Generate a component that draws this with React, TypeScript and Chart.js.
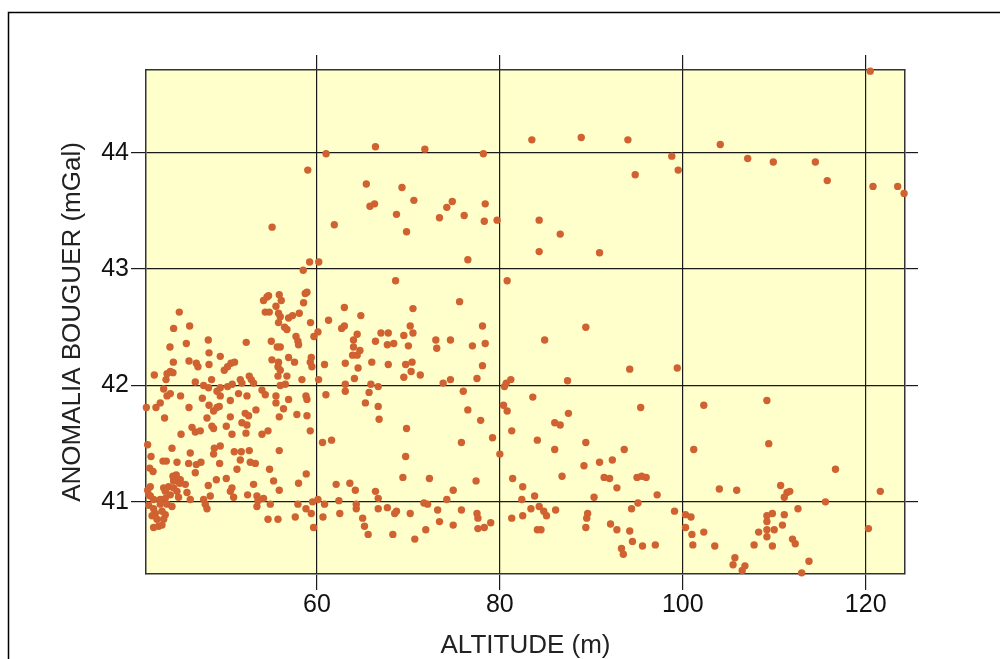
import React, { useEffect, useRef } from "react";
import { Chart, registerables } from "chart.js";

Chart.register(...registerables);

const xTicks = [60, 80, 100, 120];
const yTicks = [41, 42, 43, 44];
const xTitle = "ALTITUDE (m)";
const yTitle = "ANOMALIA BOUGUER (mGal)";

// ALTITUDE (m)
const altitude = [
  // east part
  83.5, 88.9, 94.0, 98.8, 99.5, 94.8, 104.1, 107.1, 109.9, 114.5,
  115.8, 120.5, 120.8, 123.5, 124.2, 84.3, 86.6, 84.3, 90.9, 89.4,
  84.9, 94.2, 99.4, 87.4, 83.6, 95.4, 87.5, 86.0, 86.6, 84.1,
  89.4, 86.0, 93.6, 102.3, 109.2, 109.4, 101.2, 116.7, 89.2, 90.9,
  92.3, 86.8, 91.4, 92.0, 95.0, 95.5, 96.0, 92.8, 82.5, 83.8,
  82.4, 90.3, 97.2, 104.0, 105.9, 110.7, 111.4, 111.1, 111.7, 121.6,
  115.6, 95.1, 83.4, 84.3, 84.8, 82.5, 85.1, 86.1, 89.6, 89.5,
  94.4, 99.1, 100.3, 100.9, 112.6, 111.1, 109.8, 109.2, 109.2, 84.1,
  84.5, 89.4, 92.1, 92.8, 94.2, 100.3, 101.0, 102.3, 108.3, 109.2,
  110.0, 109.2, 110.9, 120.3, 94.5, 95.6, 97.0, 93.3, 93.5, 101.1,
  103.5, 107.8, 109.8, 112.0, 112.3, 105.7, 105.5, 106.8, 106.5, 113.8,
  113.0,
  // middle part
  62.7, 63.0, 64.4, 64.0, 64.0, 64.7, 63.9, 64.4, 66.4, 67.0,
  67.8, 67.7, 68.4, 69.5, 70.2, 70.5, 70.0, 73.0, 73.1, 74.6,
  78.1, 77.0, 78.4, 63.1, 64.5, 66.0, 67.8, 69.7, 70.4, 70.3,
  69.5, 71.3, 64.1, 78.1, 77.5, 74.6, 73.8, 63.1, 63.1, 65.9,
  66.7, 65.7, 65.3, 66.7, 66.8, 76.0, 76.5, 77.9, 69.8, 61.6,
  75.8, 79.2, 69.7, 80.0, 69.4, 72.3, 77.4, 62.1, 63.6, 64.2,
  66.4, 66.7, 74.9, 74.2, 62.4, 64.3, 64.3, 66.7, 67.7, 68.7,
  68.5, 70.2, 71.7, 72.1, 73.2, 75.8, 77.5, 77.6, 62.5, 65.0,
  65.2, 65.6, 68.3, 70.7, 71.9, 73.4, 74.9, 77.6, 78.3, 79.0,
  80.5, 80.7, 81.2, 80.4, 80.8, 81.3, 81.4, 81.3,
  // middle upper part
  66.4, 71.8, 78.2, 65.4, 69.3, 70.6, 65.8, 66.3, 68.7, 69.8,
  61.9, 73.4, 74.2, 74.8, 76.1, 78.4, 78.3, 79.7, 76.5, 80.8,
  68.6, 75.6, 63.0, 64.8, 70.5,
  61.0, 59.0, 55.1, 59.2, 60.2, 58.5,
  // west upper part
  44.95, 44.33, 46.08, 48.12, 45.72, 43.93, 48.20, 49.43, 46.01, 44.30,
  46.81, 46.99, 48.20, 50.60, 50.99, 50.23, 49.87, 43.97, 44.26, 43.61,
  42.22, 43.50, 48.48, 46.70, 47.61, 48.15, 49.43, 50.23, 50.74, 43.24,
  43.97, 43.61, 45.09, 47.47, 49.07, 49.43, 50.53, 48.20, 41.35, 42.40,
  42.87, 46.01, 49.07, 49.32, 48.70, 43.34, 47.98, 50.53,
  // west lower part
  46.34, 46.70, 47.25, 48.52, 48.70, 50.09, 50.71, 45.14, 41.49, 44.15,
  41.86, 43.17, 43.53, 44.70, 46.15, 45.97, 46.81, 47.32, 48.78, 48.70,
  49.43, 49.36, 50.96, 41.71, 42.08, 46.70, 44.26, 44.62, 45.06, 44.33,
  44.98, 49.00, 50.09, 48.12, 41.78, 41.49, 43.24, 43.78, 43.42, 44.33,
  44.70, 43.97, 45.79, 44.87, 50.71, 50.53, 50.89, 41.78, 42.14, 42.87,
  43.42, 48.34, 46.15, 47.61, 41.60, 42.14, 42.87, 43.61, 44.15, 47.79,
  47.98, 42.33, 43.06, 43.42, 41.97, 42.51, 43.24, 42.14, 42.69, 43.06,
  41.60, 45.61,
  // 52-61 upper part
  54.54, 54.71, 55.88, 54.16, 56.10, 58.72, 58.91, 58.54, 55.52, 54.35,
  54.79, 55.80, 55.99, 55.80, 56.90, 57.33, 58.07, 56.46, 56.72, 59.30,
  61.27, 60.11, 59.67, 57.71, 57.92, 57.99, 52.27, 55.01, 55.66, 55.99,
  55.08, 55.80, 56.90, 57.55, 55.74, 55.99, 59.38, 59.27, 59.45, 60.83,
  51.62, 52.60, 52.82, 51.80, 53.07, 55.74, 56.72, 55.99, 56.54, 58.36,
  60.18, 51.43, 52.35, 53.99, 54.35, 55.52, 55.52, 56.35, 56.90, 58.80,
  58.91, 60.98, 52.16, 52.53, 53.33, 55.88, 57.81, 58.91,
  // 52-61 lower part
  51.80, 52.35, 52.24, 53.99, 54.65, 59.27, 60.61, 51.73, 52.60, 55.88,
  51.62, 52.71, 53.26, 51.26, 54.82, 55.26, 58.83, 57.99, 53.07, 55.88,
  52.42, 53.44, 54.16, 53.55, 53.44, 54.90, 57.92, 58.80, 59.38, 59.52,
  60.11, 60.83, 54.65, 55.74, 57.63, 60.66, 59.63,
];

// ANOMALIA BOUGUER (mGal)
const bouguer = [
  // east part
  44.11, 44.13, 44.11, 43.97, 43.85, 43.81, 44.07, 43.95, 43.92, 43.92,
  43.76, 44.70, 43.71, 43.71, 43.65, 43.42, 43.30, 43.15, 43.14, 42.50,
  42.39, 42.14, 42.15, 42.04, 41.90, 41.81, 41.76, 41.68, 41.66, 41.53,
  41.51, 41.45, 41.45, 41.83, 41.87, 41.50, 41.45, 41.28, 41.31, 41.34,
  41.36, 41.22, 41.21, 41.20, 41.21, 41.22, 41.21, 41.12, 41.13, 41.05,
  41.02, 41.04, 41.06, 41.11, 41.10, 41.14, 41.08, 41.04, 41.09, 41.09,
  41.00, 40.99, 40.94, 40.96, 40.92, 40.88, 40.88, 40.93, 40.90, 40.86,
  40.94, 40.92, 40.89, 40.87, 40.94, 40.89, 40.90, 40.88, 40.83, 40.76,
  40.76, 40.78, 40.81, 40.76, 40.75, 40.78, 40.72, 40.74, 40.74, 40.76,
  40.76, 40.70, 40.80, 40.77, 40.66, 40.62, 40.63, 40.60, 40.55, 40.63,
  40.62, 40.63, 40.62, 40.68, 40.64, 40.52, 40.46, 40.45, 40.41, 40.49,
  40.39,
  // middle part
  42.49, 42.51, 42.44, 42.39, 42.33, 42.30, 42.26, 42.26, 42.38, 42.45,
  42.45, 42.35, 42.36, 42.43, 42.51, 42.45, 42.34, 42.39, 42.32, 42.39,
  42.51, 42.34, 42.36, 42.19, 42.15, 42.20, 42.18, 42.18, 42.20, 42.12,
  42.07, 42.09, 42.06, 42.17, 42.06, 42.05, 42.02, 42.01, 41.95, 42.01,
  41.99, 41.94, 41.85, 41.82, 41.71, 41.95, 41.79, 41.70, 41.63, 41.53,
  41.51, 41.55, 41.39, 41.41, 41.21, 41.20, 41.18, 41.15, 41.16, 41.10,
  41.09, 41.03, 41.10, 41.02, 41.01, 40.98, 40.94, 40.94, 40.95, 40.92,
  40.90, 40.90, 40.99, 40.98, 40.93, 40.93, 40.90, 40.86, 40.90, 40.86,
  40.79, 40.72, 40.72, 40.68, 40.76, 40.83, 40.80, 40.77, 40.78, 40.82,
  41.99, 42.02, 42.05, 41.83, 41.78, 41.61, 41.20, 40.86,
  // middle upper part
  44.05, 44.03, 43.99, 43.73, 43.70, 43.59, 43.54, 43.56, 43.47, 43.32,
  43.38, 43.44, 43.53, 43.58, 43.46, 43.56, 43.41, 43.42, 43.08, 42.90,
  42.90, 42.72, 42.67, 42.60, 42.66,
  43.99, 43.85, 43.36, 43.06, 43.06, 42.99,
  // west upper part
  42.63, 42.49, 42.51, 42.39, 42.36, 42.33, 42.28, 42.25, 42.21, 42.20,
  42.19, 42.16, 42.18, 42.19, 42.20, 42.16, 42.13, 42.12, 42.11, 42.10,
  42.09, 42.05, 42.05, 42.03, 42.00, 41.98, 41.98, 41.99, 42.01, 41.97,
  41.93, 41.91, 41.91, 41.89, 41.95, 41.91, 41.87, 41.83, 41.81, 41.81,
  41.85, 41.81, 41.81, 41.82, 41.78, 41.72, 41.72, 41.73,
  // west lower part
  41.64, 41.60, 41.61, 41.65, 41.63, 41.65, 41.58, 41.58, 41.49, 41.46,
  41.39, 41.35, 41.35, 41.34, 41.42, 41.33, 41.32, 41.34, 41.46, 41.41,
  41.48, 41.33, 41.43, 41.29, 41.26, 41.25, 41.22, 41.23, 41.19, 41.18,
  41.16, 41.19, 41.20, 41.14, 41.13, 41.10, 41.12, 41.13, 41.09, 41.12,
  41.09, 41.06, 41.08, 41.04, 41.12, 41.09, 41.04, 41.05, 41.02, 41.02,
  41.03, 41.05, 41.02, 41.02, 40.97, 40.94, 40.98, 40.98, 40.96, 40.98,
  40.94, 40.90, 40.92, 40.89, 40.88, 40.85, 40.85, 40.78, 40.79, 40.80,
  41.06, 41.15,
  // 52-61 upper part
  42.76, 42.77, 42.78, 42.73, 42.73, 42.79, 42.80, 42.71, 42.68, 42.63,
  42.63, 42.62, 42.59, 42.54, 42.58, 42.60, 42.62, 42.50, 42.48, 42.54,
  42.56, 42.46, 42.42, 42.42, 42.38, 42.35, 42.37, 42.38, 42.33, 42.33,
  42.22, 42.20, 42.24, 42.20, 42.16, 42.13, 42.24, 42.20, 42.16, 42.18,
  42.05, 42.08, 42.05, 42.02, 42.02, 42.08, 42.08, 42.00, 42.01, 42.05,
  42.05, 41.93, 41.91, 41.96, 41.92, 41.91, 41.85, 41.80, 41.88, 41.91,
  41.88, 41.92, 41.76, 41.74, 41.79, 41.73, 41.75, 41.74,
  // 52-61 lower part
  41.68, 41.66, 41.59, 41.58, 41.61, 41.61, 41.51, 41.43, 41.44, 41.44,
  41.36, 41.34, 41.33, 41.28, 41.28, 41.18, 41.24, 41.16, 41.15, 41.10,
  41.06, 41.05, 41.03, 41.01, 40.96, 40.98, 40.98, 40.94, 40.90, 41.00,
  41.02, 40.98, 40.85, 40.85, 40.87, 40.87, 40.78,
];

const X_MIN = 41.31;
const X_MAX = 124.3;
const Y_MIN = 40.38;
const Y_MAX = 44.71;

const FONT = "'Liberation Sans', Arial, Helvetica, sans-serif";
const GRID = "#1a1a1a";
const BORDER = "#333333";

export default function App() {
  const ref = useRef<HTMLCanvasElement | null>(null);

  useEffect(() => {
    const canvas = ref.current;
    if (!canvas) return;

    const bgPlugin = {
      id: "plotBackground",
      beforeDraw(chart: any) {
        const { ctx, chartArea } = chart;
        ctx.save();
        ctx.fillStyle = "#ffffff";
        ctx.fillRect(0, 0, chart.width, chart.height);
        ctx.strokeStyle = "#000000";
        ctx.lineWidth = 1.5;
        ctx.strokeRect(8.5, 12.5, 1200, 900);
        ctx.fillStyle = "#FFFFCC";
        ctx.fillRect(
          chartArea.left,
          chartArea.top,
          chartArea.right - chartArea.left,
          chartArea.bottom - chartArea.top
        );
        ctx.restore();
      },
    };

    const setTicks = (vals: number[]) => (scale: any) => {
      scale.ticks = vals.map((v) => ({ value: v }));
    };

    const points = altitude.map((x, i) => ({ x, y: bouguer[i] }));

    const chart = new Chart(canvas, {
      type: "scatter",
      data: {
        datasets: [
          {
            data: points,
            backgroundColor: "#CF6230",
            borderWidth: 0,
            pointRadius: 3.7,
            pointHoverRadius: 3.7,
            clip: false,
          } as any,
        ],
      },
      options: {
        responsive: false,
        animation: false,
        events: [],
        layout: { padding: { left: 0, top: 55, right: 82, bottom: 0 } },
        plugins: {
          legend: { display: false },
          tooltip: { enabled: false },
        },
        scales: {
          x: {
            type: "linear",
            position: "bottom",
            min: X_MIN,
            max: X_MAX,
            afterBuildTicks: setTicks(xTicks),
            afterFit: (s: any) => {
              s.height = 85;
            },
            grid: { color: GRID, lineWidth: 1.2, tickLength: 16, tickColor: GRID },
            border: { display: true, color: BORDER, width: 1.5 },
            ticks: {
              padding: 0,
              color: "#111111",
              font: { family: FONT, size: 25 },
              maxRotation: 0,
              autoSkip: false,
            },
            title: {
              display: true,
              text: xTitle,
              color: "#222222",
              font: { family: FONT, size: 26, lineHeight: 1 },
              padding: { top: 0, bottom: 0 },
            },
          },
          x2: {
            type: "linear",
            position: "top",
            display: true,
            min: X_MIN,
            max: X_MAX,
            afterBuildTicks: setTicks(xTicks),
            afterFit: (s: any) => {
              s.height = 15;
            },
            grid: { drawOnChartArea: false, color: GRID, lineWidth: 1.2, tickLength: 15, tickColor: GRID },
            border: { display: true, color: BORDER, width: 1.5 },
            ticks: { display: false },
          },
          y: {
            type: "linear",
            position: "left",
            min: Y_MIN,
            max: Y_MAX,
            afterBuildTicks: setTicks(yTicks),
            afterFit: (s: any) => {
              s.width = 146;
            },
            grid: { color: GRID, lineWidth: 1.2, tickLength: 15, tickColor: GRID },
            border: { display: true, color: BORDER, width: 1.5 },
            ticks: {
              padding: 2,
              color: "#111111",
              font: { family: FONT, size: 25 },
              autoSkip: false,
            },
            title: {
              display: true,
              text: yTitle,
              color: "#222222",
              font: { family: FONT, size: 26, lineHeight: 1 },
              padding: { top: 60, bottom: 0 },
            },
          },
          y2: {
            type: "linear",
            position: "right",
            display: true,
            min: Y_MIN,
            max: Y_MAX,
            afterBuildTicks: setTicks(yTicks),
            afterFit: (s: any) => {
              s.width = 13;
            },
            grid: { drawOnChartArea: false, color: GRID, lineWidth: 1.2, tickLength: 13, tickColor: GRID },
            border: { display: true, color: BORDER, width: 1.5 },
            ticks: { display: false },
          },
        },
      } as any,
      plugins: [bgPlugin],
    });

    return () => {
      chart.destroy();
    };
  }, []);

  return (
    <div style={{ position: "fixed", left: 0, top: 0, width: 1000, height: 659 }}>
      <canvas ref={ref} width={1000} height={659} style={{ width: 1000, height: 659, display: "block" }} />
    </div>
  );
}
